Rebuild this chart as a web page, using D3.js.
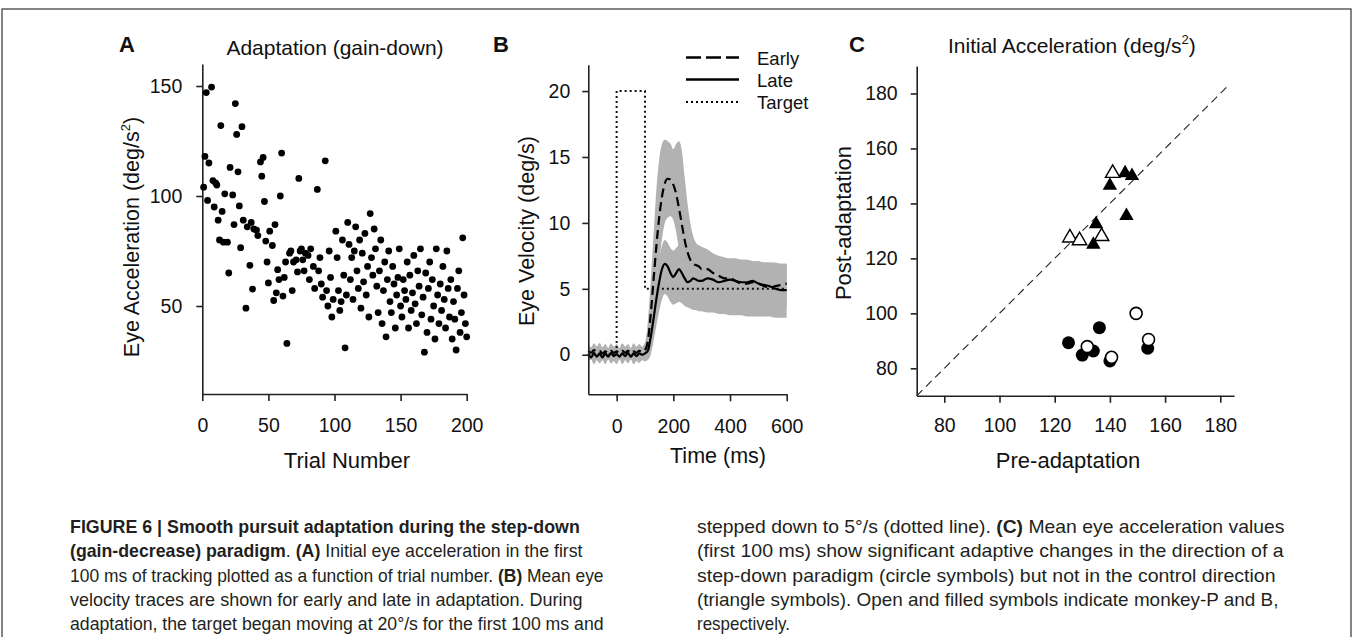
<!DOCTYPE html>
<html><head><meta charset="utf-8">
<script src="https://cdn.jsdelivr.net/npm/d3@7"></script>
<style>body{margin:0;background:#fff}svg{display:block}text{white-space:pre}</style>
</head><body><svg id="c" width="1354" height="637"></svg>
<script>
// ---------- Panel A data: trial number vs initial eye acceleration ----------
const trialNum = [1,2,3,4,5,7,8,9,10,11,12,13,14,15,16,17,19,20,21,23,24,25,26,27,28,29,30,31,33,34,36,37,38,39,41,42,44,45,46,47,48,49,50,51,53,54,55,56,57,58,59,60,61,62,63,64,66,67,68,69,71,72,73,74,
75,76,77,78,80,81,82,84,85,87,88,89,90,91,93,94,95,96,97,98,99,
101,102,103,104,105,106,107,108,109,110,111,112,113,114,115,116,117,118,119,120,
121,122,123,124,125,126,127,128,129,130,131,132,133,134,135,136,137,138,139,140,
141,142,143,144,145,146,147,148,149,150,151,152,153,154,155,156,157,158,159,160,
161,162,163,164,165,166,167,168,169,170,171,172,173,174,175,176,177,178,179,180,
181,182,183,184,185,186,187,188,189,190,191,192,193,194,195,196,197,198,199,200];
const eyeAccel = [104,118,147,98,115,149.5,107,95,106,105,89,80,132,93,79,101,79,65,113,100.5,87,142,128,111,95.5,76.5,131.5,89,49,86,68.5,88,57.7,85,84.5,82,115.5,109,117.5,97.5,79.5,70,60.5,84,77.5,52.5,87,56,66.5,62,100,119.5,54.5,63,70,33,74,75,57,70,71,65.5,108,75,
76,71,66,74,73,62,76,68,58,103,66,72,60,54,116,57,50,75,63,45,53,
84,72,57,48,52,80,64,31,55,88,78,62,72,53,75,86,66,58,80,49,
74,61,83,55,68,45,92,72,64,85,76,59,47,66,80,42,57,70,36,62,
75,52,47,68,60,40,55,63,76,50,45,62,57,53,70,40,64,48,56,73,
51,42,66,59,76,46,54,29,65,38,58,70,44,62,50,35,76,55,42,60,
48,68,53,40,75,58,45,62,35,52,44,30,58,66,38,47,81,55,42,36];
const ticksAx = [0,50,100,150,200];
const ticksAy = [50,100,150];

// ---------- Panel B data: mean eye velocity traces (deg/s) ----------
const timeMs = [-100,-90,-80,-70,-60,-50,-40,-30,-20,-10,0,10,20,30,40,50,60,70,80,90,100,
110,120,130,140,150,160,170,180,190,200,210,220,230,240,250,260,270,280,290,300,
320,340,360,380,400,420,440,460,480,500,520,540,560,580,600];
const earlyMean = [0.3,0.15,0.35,0.2,0.3,0.1,0.25,0.1,0.3,0.15,0.25,0.1,0.3,0.15,0.3,0.1,0.25,0.15,0.3,0.2,0.35,
1.0,3.0,5.6,8.2,10.4,12.0,13.0,13.35,13.3,12.9,12.2,11.1,9.9,8.7,7.8,7.2,6.9,6.8,6.7,6.5,
6.5,6.2,6.0,5.8,5.8,5.6,5.4,5.4,5.5,5.4,5.2,5.1,5.2,5.3,5.4];
const lateMean = [0.1,-0.2,0.15,-0.15,0.1,-0.2,0.1,-0.15,0.15,-0.1,0.05,-0.15,0.1,-0.1,0.15,-0.15,0.1,-0.1,0.1,0.0,0.1,
0.3,1.3,2.7,4.2,5.5,6.5,6.9,6.7,6.2,5.9,6.2,6.5,6.2,5.8,5.5,5.6,5.8,5.7,5.6,5.6,
5.8,5.7,5.5,5.6,5.7,5.6,5.5,5.5,5.6,5.4,5.3,5.2,5.0,4.9,4.9];
const earlyHi = [0.8,0.55,0.85,0.6,0.9,0.55,0.8,0.5,0.85,0.6,0.8,0.5,0.85,0.6,0.8,0.5,0.85,0.6,0.8,0.6,0.9,
2.5,5.5,9.0,12.5,14.8,16.0,16.3,16.2,16.0,15.6,16.0,16.2,15.5,13.5,11.5,10.0,9.0,8.5,8.3,8.2,
8.0,7.7,7.5,7.4,7.3,7.3,7.2,7.2,7.1,7.1,7.0,7.0,7.0,6.9,6.9];
const earlyLo = [-0.6,-0.35,-0.7,-0.4,-0.65,-0.4,-0.7,-0.35,-0.65,-0.45,-0.7,-0.35,-0.7,-0.4,-0.65,-0.35,-0.7,-0.45,-0.6,-0.4,-0.5,
0,1.5,3.0,5.0,7.0,8.8,10.0,10.4,10.5,10.2,9.3,8.0,6.8,5.8,5.0,4.5,4.3,4.2,4.1,4.0,
3.9,3.8,3.8,3.7,3.7,3.7,3.6,3.6,3.6,3.6,3.6,3.6,3.6,3.6,3.6];
const lateHi = [0.8,0.55,0.85,0.6,0.9,0.55,0.8,0.5,0.85,0.6,0.8,0.5,0.85,0.6,0.8,0.5,0.85,0.6,0.8,0.6,0.9,
1.0,2.5,4.0,5.8,7.3,8.3,8.7,8.5,8.1,7.9,8.1,8.3,8.0,7.8,7.6,7.5,7.5,7.5,7.5,7.5,
7.5,7.4,7.4,7.3,7.3,7.3,7.2,7.2,7.1,7.1,7.0,7.0,6.9,6.9,6.9];
const lateLo = [-0.6,-0.35,-0.7,-0.4,-0.65,-0.4,-0.7,-0.35,-0.65,-0.45,-0.7,-0.35,-0.7,-0.4,-0.65,-0.35,-0.7,-0.45,-0.6,-0.4,-0.5,
-0.4,0,1.0,2.2,3.3,4.2,4.6,4.4,4.0,3.8,3.9,4.0,3.9,3.7,3.6,3.5,3.4,3.4,3.3,3.3,
3.2,3.2,3.1,3.1,3.0,3.0,3.0,2.9,2.9,2.9,2.9,2.9,2.8,2.8,2.8];
const targetT = [-100,0,0,100,100,600];
const targetV = [0,0,20,20,5,5];
const ticksBx = [0,200,400,600];
const ticksBy = [0,5,10,15,20];
const legendB = ["Early","Late","Target"];

// ---------- Panel C data: pre vs post adaptation acceleration ----------
const circFilledPre  = [125,130,134,136.2,140,153.7];
const circFilledPost = [89.3,84.8,86.3,94.8,82.7,87.3];
const circOpenPre    = [131.8,140.6,149.5,154];
const circOpenPost   = [87.9,84,100,90.5];
const triFilledPre   = [134,135,140,145.5,148,146];
const triFilledPost  = [125,132.5,146.5,151,150,135.5];
const triOpenPre     = [125.5,129,137,141];
const triOpenPost    = [127.5,126.5,128,151];
const ticksC = [80,100,120,140,160,180];
const unityLine = [70,183];

// ---------- Caption ----------
const captionLeft = [
 [["FIGURE 6 | Smooth pursuit adaptation during the step-down",1]],
 [["(gain-decrease) paradigm",1],[". ",0],["(A)",1],[" Initial eye acceleration in the first",0]],
 [["100 ms of tracking plotted as a function of trial number. ",0],["(B)",1],[" Mean eye",0]],
 [["velocity traces are shown for early and late in adaptation. During",0]],
 [["adaptation, the target began moving at 20°/s for the first 100 ms and",0]]
];
const captionRight = [
 [["stepped down to 5°/s (dotted line). ",0],["(C)",1],[" Mean eye acceleration values",0]],
 [["(first 100 ms) show significant adaptive changes in the direction of a",0]],
 [["step-down paradigm (circle symbols) but not in the control direction",0]],
 [["(triangle symbols). Open and filled symbols indicate monkey-P and B,",0]],
 [["respectively.",0]]
];
const capWidthL = [510,513,534,513,534];
const capWidthR = [588,587,579,582,93];

// ================= drawing =================
const FONT = "'Liberation Sans', Arial, Helvetica, sans-serif";
const svg = d3.select("#c");
svg.append("rect").attr("width",1354).attr("height",637).attr("fill","#fff");
svg.append("rect").attr("x",2).attr("y",9).attr("width",1349).attr("height",660)
  .attr("fill","none").attr("stroke","#444").attr("stroke-width",1.3);

function styleAxis(g){
  g.selectAll("path,line").attr("stroke","#222").attr("stroke-width",1.6);
  g.selectAll("text").attr("font-family",FONT).attr("font-size",19.5).attr("fill","#111");
}
function txt(x,y,s,opt={}){
  const t = svg.append("text").attr("x",x).attr("y",y).text(s)
    .attr("font-family",FONT).attr("font-size",opt.size||21).attr("fill","#111")
    .attr("text-anchor",opt.anchor||"middle");
  if(opt.bold) t.attr("font-weight","bold");
  if(opt.rot) t.attr("transform",`rotate(-90,${x},${y})`);
  return t;
}

// ----- Panel A -----
const xA = d3.scaleLinear().domain([0,200]).range([202.3,466.7]);
const yA = d3.scaleLinear().domain([10,160]).range([394,64]);
svg.append("g").attr("transform","translate(0,394)")
  .call(d3.axisBottom(xA).tickValues(ticksAx).tickSize(7).tickSizeOuter(0).tickPadding(17))
  .call(styleAxis);
svg.append("g").attr("transform","translate(202.3,0)")
  .call(d3.axisLeft(yA).tickValues(ticksAy).tickSize(6).tickSizeOuter(0).tickPadding(14))
  .call(styleAxis);
svg.append("g").selectAll("circle").data(trialNum).join("circle")
  .attr("cx",(d)=>xA(d)).attr("cy",(d,i)=>yA(eyeAccel[i])).attr("r",3.4).attr("fill","#000");
txt(127,52,"A",{bold:true,size:22});
txt(335,55,"Adaptation (gain-down)",{size:21});
txt(347,468,"Trial Number",{size:22});
{
  const t = txt(139,237,"Eye Acceleration (deg/s",{size:21.5,rot:true});
  t.append("tspan").text("2").attr("font-size",13).attr("dy",-9);
  t.append("tspan").text(")").attr("dy",9);
}

// ----- Panel B -----
const xB = d3.scaleLinear().domain([-100,600]).range([588.3,786.7]);
const yB = d3.scaleLinear().domain([-3,22]).range([394.3,64.7]);
const area = (hi,lo)=>d3.area().x((d)=>xB(d)).y0((d,i)=>yB(lo[i])).y1((d,i)=>yB(hi[i])).curve(d3.curveMonotoneX);
svg.append("path").datum(timeMs).attr("d",area(earlyHi,earlyLo)).attr("fill","#b2b2b2");
svg.append("path").datum(timeMs).attr("d",area(lateHi,lateLo)).attr("fill","#b2b2b2");
svg.append("path").datum(targetT).attr("d",d3.line().x((d)=>xB(d)).y((d,i)=>yB(targetV[i])))
  .attr("fill","none").attr("stroke","#111").attr("stroke-width",2).attr("stroke-dasharray","2,3");
const lineB = (v)=>d3.line().x((d)=>xB(d)).y((d,i)=>yB(v[i])).curve(d3.curveMonotoneX);
svg.append("path").datum(timeMs).attr("d",lineB(earlyMean))
  .attr("fill","none").attr("stroke","#000").attr("stroke-width",2.2).attr("stroke-dasharray","9,5");
svg.append("path").datum(timeMs).attr("d",lineB(lateMean))
  .attr("fill","none").attr("stroke","#000").attr("stroke-width",2.2);
svg.append("g").attr("transform","translate(0,394.3)")
  .call(d3.axisBottom(xB).tickValues(ticksBx).tickSize(7).tickSizeOuter(0).tickPadding(18))
  .call(styleAxis);
svg.append("g").attr("transform","translate(588.3,0)")
  .call(d3.axisLeft(yB).tickValues(ticksBy).tickSize(6).tickSizeOuter(0).tickPadding(12))
  .call(styleAxis);
txt(501,52,"B",{bold:true,size:22});
txt(718,463,"Time (ms)",{size:21.5});
txt(534,231,"Eye Velocity (deg/s)",{size:21.5,rot:true});
const legY = [57.5,79.5,102];
const legDash = ["15,5",null,"2,3"];
legendB.forEach((name,i)=>{
  const l = svg.append("line").attr("x1",686).attr("x2",739).attr("y1",legY[i]).attr("y2",legY[i])
    .attr("stroke","#000").attr("stroke-width",i==2?2:2.6);
  if(legDash[i]) l.attr("stroke-dasharray",legDash[i]);
  txt(757,legY[i]+7,name,{size:18.5,anchor:"start"});
});

// ----- Panel C -----
const xC = d3.scaleLinear().domain([70,185]).range([916.7,1234.1]);
const yC = d3.scaleLinear().domain([70,190]).range([395.8,66]);
svg.append("line").attr("x1",xC(unityLine[0])).attr("y1",yC(unityLine[0]))
  .attr("x2",xC(unityLine[1])).attr("y2",yC(unityLine[1]))
  .attr("stroke","#222").attr("stroke-width",1.1).attr("stroke-dasharray","8,5");
svg.append("g").attr("transform","translate(0,395.8)")
  .call(d3.axisBottom(xC).tickValues(ticksC).tickSize(7).tickSizeOuter(0).tickPadding(15))
  .call(styleAxis);
svg.append("g").attr("transform","translate(916.7,0)")
  .call(d3.axisLeft(yC).tickValues(ticksC).tickSize(6).tickSizeOuter(0).tickPadding(13))
  .call(styleAxis);
const tri = d3.symbol().type(d3.symbolTriangle).size(90);
svg.append("g").selectAll("path").data(triFilledPre).join("path")
  .attr("d",tri).attr("transform",(d,i)=>`translate(${xC(d)},${yC(triFilledPost[i])})`).attr("fill","#000");
svg.append("g").selectAll("path").data(triOpenPre).join("path")
  .attr("d",tri).attr("transform",(d,i)=>`translate(${xC(d)},${yC(triOpenPost[i])})`)
  .attr("fill","#fff").attr("stroke","#000").attr("stroke-width",1.4);
svg.append("g").selectAll("circle").data(circFilledPre).join("circle")
  .attr("cx",(d)=>xC(d)).attr("cy",(d,i)=>yC(circFilledPost[i])).attr("r",6.5).attr("fill","#000");
svg.append("g").selectAll("circle").data(circOpenPre).join("circle")
  .attr("cx",(d)=>xC(d)).attr("cy",(d,i)=>yC(circOpenPost[i])).attr("r",6)
  .attr("fill","#fff").attr("stroke","#000").attr("stroke-width",1.6);
txt(857,52,"C",{bold:true,size:22});
{
  const t = txt(948,53,"Initial Acceleration (deg/s",{size:21,anchor:"start"});
  t.append("tspan").text("2").attr("font-size",13).attr("dy",-9);
  t.append("tspan").text(")").attr("dy",9);
}
txt(1068,468,"Pre-adaptation",{size:22});
txt(851,223,"Post-adaptation",{size:22,rot:true});

// ----- Caption (each line scaled horizontally to the reference width) -----
function caption(lines,x0,widths){
  lines.forEach((segs,i)=>{
    const y = 533 + i*24.3;
    const t = svg.append("text").attr("x",0).attr("y",0)
      .attr("font-family","'Liberation Sans Narrow','Liberation Sans',Arial,sans-serif")
      .attr("font-size",17.5).attr("fill","#231f20");
    segs.forEach(([s,b])=>{ const sp=t.append("tspan").text(s); if(b) sp.attr("font-weight","bold"); });
    const len = t.node().getComputedTextLength();
    const sx = widths[i] ? widths[i]/len : 1;
    t.attr("transform",`translate(${x0},${y}) scale(${sx},1)`);
  });
}
caption(captionLeft,70,capWidthL);
caption(captionRight,697,capWidthR);
</script></body></html>
